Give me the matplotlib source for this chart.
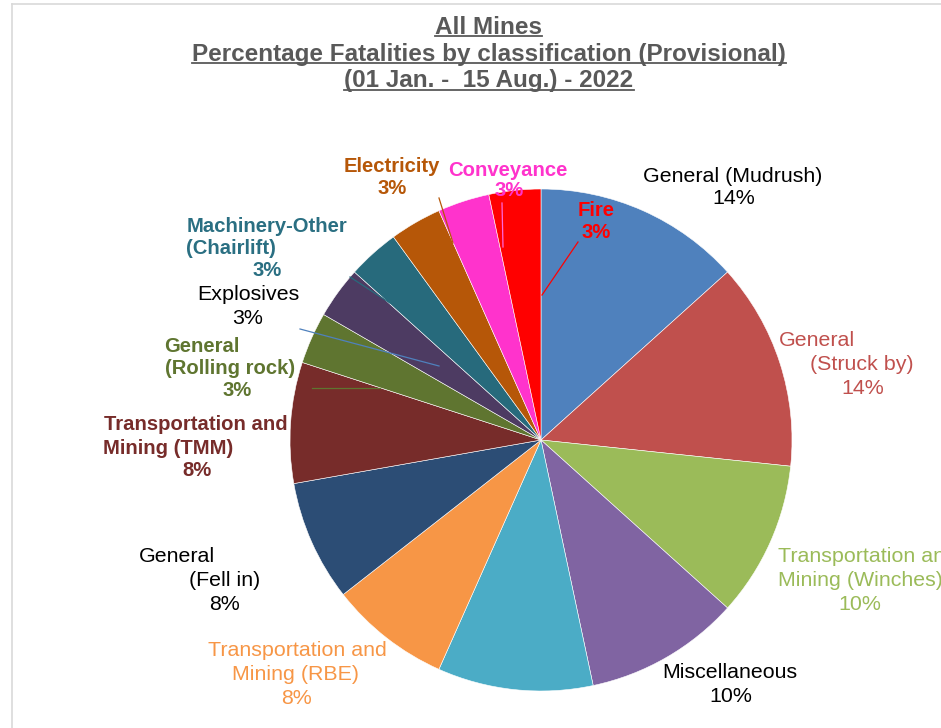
import matplotlib
matplotlib.use("Agg")
import matplotlib.pyplot as plt
from matplotlib.lines import Line2D

# slices, clockwise from 12 o'clock
categories = [
    "General (Mudrush)", "General (Struck by)", "Transportation and Mining (Winches)",
    "Miscellaneous", "(unlabelled)", "Transportation and Mining (RBE)", "General (Fell in)",
    "Transportation and Mining (TMM)", "General (Rolling rock)", "Explosives",
    "Machinery-Other (Chairlift)", "Electricity", "Conveyance", "Fire",
]
shares = [12, 12, 9, 9, 9, 7, 7, 7, 3, 3, 3, 3, 3, 3]
pct_labels = ["14%", "14%", "10%", "10%", "10%", "8%", "8%", "8%",
              "3%", "3%", "3%", "3%", "3%", "3%"]
name_lines = [
    ["General (Mudrush)"],
    ["General", "(Struck by)"],
    ["Transportation and", "Mining (Winches)"],
    ["Miscellaneous"],
    [],
    ["Transportation and", "Mining (RBE)"],
    ["General", "(Fell in)"],
    ["Transportation and", "Mining (TMM)"],
    ["General", "(Rolling rock)"],
    ["Explosives"],
    ["Machinery-Other", "(Chairlift)"],
    ["Electricity"],
    ["Conveyance"],
    ["Fire"],
]
title_lines = ["All Mines",
               "Percentage Fatalities by classification (Provisional)",
               "(01 Jan. -  15 Aug.) - 2022"]

slice_colors = ["#4F81BD", "#C0504D", "#9BBB59", "#8064A2", "#4BACC6", "#F79646",
                "#2C4D75", "#772C2A", "#5F7530", "#4D3B62", "#276A7C", "#B65708",
                "#FF33CC", "#FF0000"]
label_colors = ["black", "#C0504D", "#9BBB59", "black", None, "#F79646",
                "black", "#772C2A", "#5F7530", "black", "#2A6F82", "#B65708",
                "#FF33CC", "#FF0000"]
label_bold = [False, False, False, False, False, False, False,
              True, True, False, True, True, True, True]

# label line centres in pixels (x, y from top), last entry is the percentage
label_pos = [
    [(733, 174), (734, 197)],
    [(817, 338), (862, 362), (863, 386)],
    [(867, 555), (860, 579), (860, 603)],
    [(730, 670), (731, 694)],
    None,
    [(297, 648), (296, 672), (297, 697)],
    [(177, 554), (225, 578), (225, 602)],
    [(196, 423), (168, 446), (197, 468)],
    [(202, 344), (230, 367), (237, 388)],
    [(248, 293), (248, 317)],
    [(267, 225), (231, 247), (267, 268)],
    [(392, 165), (392, 187)],
    [(508, 168), (509, 189)],
    [(596, 209), (596, 231)],
]
leaders = {
    8: ((312, 388), (380, 388), "#5F7530"),
    9: ((300, 329), (439, 366), "#4F81BD"),
    10: ((350, 277), (390, 303), "#276A7C"),
    11: ((439, 198), (453, 243), "#B65708"),
    12: ((502, 203), (503, 247), "#FF66DD"),
    13: ((578, 242), (542, 295), "#FF0000"),
}

W, H = 941, 728
plt.rcParams["font.family"] = ["Liberation Sans", "DejaVu Sans"]

fig = plt.figure(figsize=(W / 100, H / 100), dpi=100)
ax = fig.add_axes([0, 0, 1, 1])

# pie in pixel coordinates (y axis inverted, so counterclock=True runs clockwise on screen)
ax.pie(shares, colors=slice_colors, startangle=-90, counterclock=True,
       center=(541, 440), radius=251,
       wedgeprops=dict(edgecolor="white", linewidth=0.4))

for i, lines in enumerate(name_lines):
    if not label_pos[i]:
        continue
    texts = lines + [pct_labels[i]]
    size = 14.6 if label_bold[i] else 15.4
    for txt, (x, y) in zip(texts, label_pos[i]):
        ax.text(x, y, txt, ha="center", va="center_baseline", fontsize=size,
                color=label_colors[i], fontweight="bold" if label_bold[i] else "normal")

for i, (p0, p1, c) in leaders.items():
    ax.add_line(Line2D([p0[0], p1[0]], [p0[1], p1[1]], color=c, linewidth=0.9))

# title, underlined
title_base = [33.5, 60.5, 87.5]
title_objs = []
for txt, yb in zip(title_lines, title_base):
    t = ax.text(489, yb, txt, ha="center", va="baseline", fontsize=17.5,
                fontweight="bold", color="#595959")
    title_objs.append((t, yb))

# chart area border (only top and left edges visible)
ax.add_line(Line2D([12, W], [4, 4], color="#D9D9D9", linewidth=1.2))
ax.add_line(Line2D([12, 12], [4, H], color="#D9D9D9", linewidth=1.2))

ax.set_xlim(0, W)
ax.set_ylim(H, 0)
ax.set_aspect("auto")
ax.axis("off")

fig.canvas.draw()
renderer = fig.canvas.get_renderer()
for t, yb in title_objs:
    bb = t.get_window_extent(renderer)
    ax.add_line(Line2D([bb.x0, bb.x1], [yb + 2, yb + 2], color="#595959", linewidth=1.3))

ax.set_xlim(0, W)
ax.set_ylim(H, 0)
fig.savefig("out.png", dpi=100)
